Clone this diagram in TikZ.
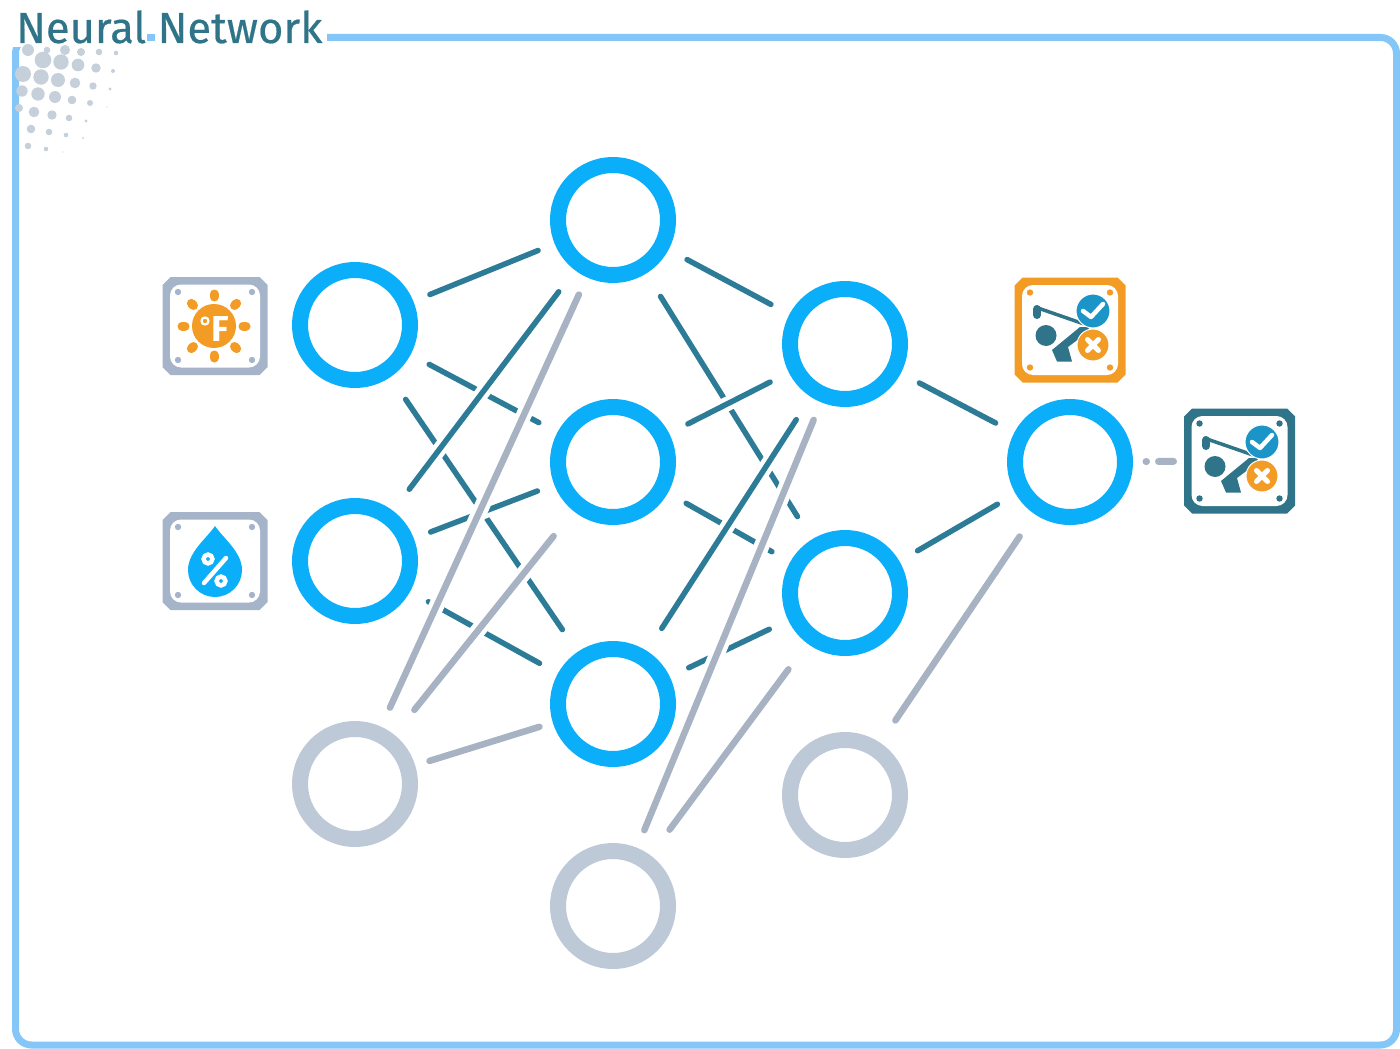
\documentclass[tikz,border=0pt]{standalone}
\usepackage{fontspec}
\setmainfont{Fira Sans}
\newfontfamily\titlefont[FakeBold=0.4]{Fira Sans}
\definecolor{ringblue}{HTML}{0AAEF9}
\definecolor{ringgray}{HTML}{BDC9D6}
\definecolor{framedblue}{HTML}{85C6F9}
\definecolor{tealdark}{HTML}{2F7488}
\definecolor{wireteal}{HTML}{2C7C98}
\definecolor{linegray}{HTML}{A7B2C3}
\definecolor{dotgray}{HTML}{C5D0DB}
\definecolor{iconorange}{HTML}{F39C25}
\definecolor{iconslate}{HTML}{A6B4CA}
\newcommand{\iconbox}[6]{%
\node [minimum width=2*#4pt,minimum height=2*#5pt,inner sep=0pt] (#1) at (#2,#3) {};
\begin{scope}[shift={(#2,#3)}]
\fill [#6] (-#4+8,#5) -- (#4-8,#5) -- (#4,#5-8) -- (#4,-#5+8) -- (#4-8,-#5) -- (-#4+8,-#5) -- (-#4,-#5+8) -- (-#4,#5-8) -- cycle;
\fill [white,rounded corners=11pt] (-#4+7.5,-#5+7.5) rectangle (#4-7.5,#5-7.5);
\fill [#6] (-#4+15.5,-#5+15) circle (3.2) (#4-15.5,-#5+15) circle (3.2) (-#4+15.5,#5-15) circle (3.2) (#4-15.5,#5-15) circle (3.2);
\end{scope}
}
\newcommand{\golfer}[2]{%
\begin{scope}[shift={(#1,#2)}]
\fill [tealdark] (-24,-5.5) circle (10.5);
\draw [tealdark,line width=3.5pt] (-35,23) -- (17,5);
\draw [tealdark,line width=8pt,line cap=round] (-33,21) -- (-33,15);
\fill [tealdark] (-18,-20) -- (10,3) -- (19,3) -- (18,-2) -- (-2,-17) -- (2,-31.5) -- (-13,-31.5) -- cycle;
\fill [wireteal!50!ringblue,draw=white,line width=1pt] (23,19) circle (17);
\draw [white,line width=4.5pt,line cap=round,line join=round] (13,19) -- (21,13) -- (33,26);
\fill [iconorange,draw=white,line width=1pt] (23,-15) circle (16);
\draw [white,line width=5pt,line cap=round] (17.5,-9.5) -- (28.5,-20.5) (17.5,-20.5) -- (28.5,-9.5);
\end{scope}
}
\begin{document}
\begin{tikzpicture}[x=1pt,y=1pt]
\tikzstyle{ring}=[circle,draw=ringblue,line width=16pt,minimum size=110pt,inner sep=0pt]
\tikzstyle{ringoff}=[ring,draw=ringgray]
\tikzstyle{wire}=[line width=5.5pt,line cap=round,draw=wireteal,shorten <=18pt,shorten >=18pt,preaction={draw=white,line width=14.5pt}]
\tikzstyle{wirelong}=[wire,shorten <=21pt,shorten >=21pt]
\tikzstyle{wirefar}=[wire,shorten <=27pt,shorten >=27pt]
\tikzstyle{wireoff}=[wire,line width=6.5pt,draw=linegray,preaction={draw=white,line width=15.5pt}]
\useasboundingbox (0,0) rectangle (1400,-1049);
\fill [white] (0,0) rectangle (1400,-1049);
\draw [framedblue,line width=7pt,rounded corners=16pt] (327,-37.5) -- (1396.5,-37.5) -- (1396.5,-1045) -- (15.5,-1045) -- (15.5,-37.5) -- (16,-37.5);
\fill [white] (10,-20) rectangle (327,-47);
\draw [framedblue,line width=7pt] (147,-37.5) -- (155,-37.5);
\fill [dotgray] (28,-50) circle (6) (47,-50) circle (3.3) (65,-50) circle (5) (81,-52) circle (4) (99,-52) circle (3.3) (116,-53) circle (2.3);
\fill [dotgray] (43,-60) circle (8.3) (61,-62) circle (7.7) (78,-65) circle (6.3) (96,-68) circle (4.7) (113,-71) circle (2);
\fill [dotgray] (23,-74) circle (8) (41,-77) circle (7.7) (58,-80) circle (7) (75,-83) circle (5.3) (93,-86) circle (3.7) (110,-89) circle (1.7);
\fill [dotgray] (22,-91) circle (5.7) (38,-94) circle (6.7) (55,-97) circle (6) (72,-100) circle (4.3) (90,-103) circle (3) (107,-107) circle (.7);
\fill [dotgray] (19,-108) circle (4) (34,-112) circle (5.3) (52,-115) circle (4.7) (69,-118) circle (3.3) (86,-121) circle (1.7);
\fill [dotgray] (31,-129) circle (4.3) (49,-132) circle (3.3) (66,-135) circle (2.3) (83,-138) circle (1);
\fill [dotgray] (28,-146) circle (3.3) (46,-149) circle (2.3) (63,-152) circle (.7);
\node [text=tealdark,font=\titlefont\fontsize{43.5pt}{44pt}\selectfont,inner sep=0pt,anchor=base west] (title) at (16,-43) {Neural Network};
\node [ring] (in1) at (355,-325) {};
\node [ring] (in2) at (355,-561) {};
\node [ringoff] (in3) at (355,-784) {};
\node [ring] (hid1) at (613,-220) {};
\node [ring] (hid2) at (613,-462) {};
\node [ring] (hid3) at (613,-704) {};
\node [ringoff] (hid4) at (613,-906) {};
\node [ring] (sec1) at (845,-344) {};
\node [ring] (sec2) at (845,-593) {};
\node [ringoff] (sec3) at (845,-795) {};
\node [ring] (out) at (1070,-462) {};
\draw [wire] (in1) -- (hid1);
\draw [wirelong] (in1) -- (hid2);
\draw [wirefar] (in1) -- (hid3);
\draw [wirelong] (in2) -- (hid3);
\draw [wire] (in2) -- (hid2);
\draw [wirefar] (in2) -- (hid1);
\draw [wirelong] (hid1) -- (sec1);
\draw [wirefar] (hid1) -- (sec2);
\draw [wirelong] (hid2) -- (sec1);
\draw [wirelong] (hid2) -- (sec2);
\draw [wirelong] (hid3) -- (sec2);
\draw [wirefar] (hid3) -- (sec1);
\draw [wirelong] (sec1) -- (out);
\draw [wirelong] (sec2) -- (out);
\draw [wireoff,shorten <=21pt,shorten >=19pt] (in3) -- (hid1);
\draw [wireoff,shorten <=32pt,shorten >=32pt] (in3) -- (hid2);
\draw [wireoff,shorten <=15pt,shorten >=14pt] (in3) -- (hid3);
\draw [wireoff,shorten <=19pt,shorten >=19pt] (hid4) -- (sec1);
\draw [wireoff,shorten <=32pt,shorten >=32pt] (hid4) -- (sec2);
\draw [wireoff,shorten <=27pt,shorten >=27pt] (sec3) -- (out);
\iconbox{temp}{215}{-326}{52.5}{49}{iconslate}
\fill [iconorange] (214,-326) circle (22);
\foreach \ang in {0,45,...,315}
\draw [iconorange,line width=9pt,line cap=round] (214,-326) ++(\ang:29) -- ++(\ang:3);
\node [text=white,font=\bfseries\fontsize{36pt}{36pt}\selectfont,inner sep=0pt] (tempf) at (220,-329.5) {F};
\draw [white,line width=2.2pt] (205,-321) circle (3.5);
\iconbox{damp}{215}{-561}{52.5}{49}{iconslate}
\fill [ringblue] (215,-526) .. controls (207,-538) and (188,-552) .. (188,-570) arc (180:360:27) .. controls (242,-552) and (223,-538) .. (215,-526) -- cycle;
\draw [white,line width=4.5pt] (208,-559) circle (4.4) (221,-581) circle (4.4);
\draw [white,line width=4.5pt,line cap=round] (204,-583) -- (226,-558);
\iconbox{target}{1070}{-330}{55.5}{52.5}{iconorange}
\golfer{1070}{-330}
\iconbox{pred}{1239.5}{-461}{55.5}{52.5}{tealdark}
\golfer{1239}{-461}
\draw [linegray,line width=7pt,line cap=round,dash pattern=on .5pt off 12pt on 15pt off 100pt,shorten <=13pt,shorten >=10pt] (out) -- (pred);
\end{tikzpicture}
\end{document}
